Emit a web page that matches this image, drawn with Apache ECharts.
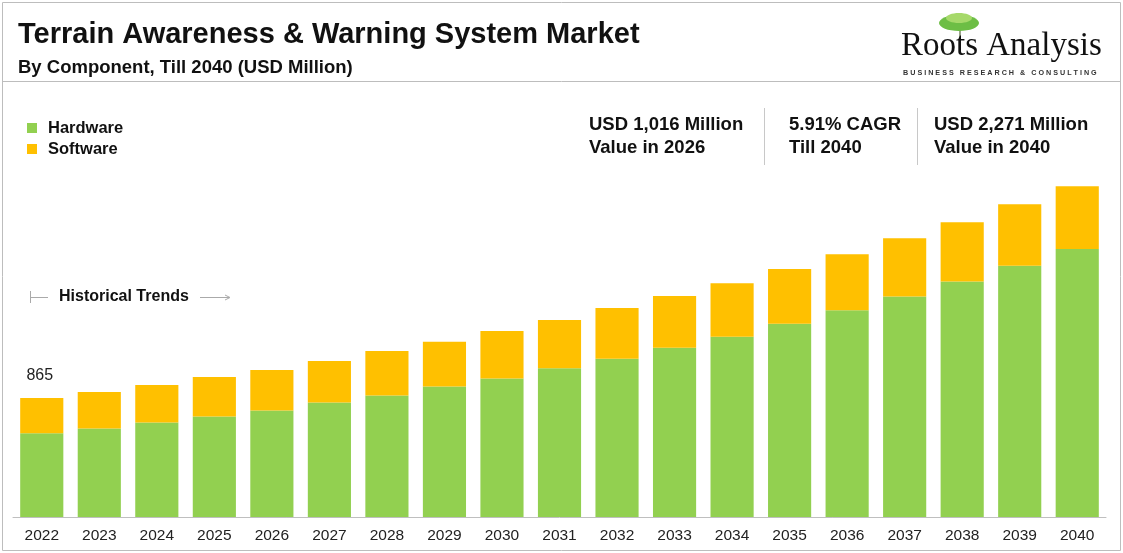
<!DOCTYPE html>
<html>
<head>
<meta charset="utf-8">
<script src="https://cdn.jsdelivr.net/npm/echarts@6/dist/echarts.min.js"></script>
<style>
html,body{margin:0;padding:0;background:#fff;}
#c{width:1123px;height:553px;}
</style>
</head>
<body>
<div id="c"></div>
<script>
var years = ['2022','2023','2024','2025','2026','2027','2028','2029','2030','2031','2032','2033','2034','2035','2036','2037','2038','2039','2040'];
var hardware = [609,642,686,729,773,831,882,947,1005,1080,1150,1230,1309,1404,1501,1602,1711,1824,1947];
var software = [256,266,273,288,295,302,324,326,346,350,368,375,389,397,408,423,430,447,455];
var seriesNames = ['Hardware','Software'];
var colors = ['#92D050','#FFC000'];
var titleText = 'Terrain Awareness & Warning System Market';
var subtitleText = 'By Component, Till 2040 (USD Million)';
var stats = [
  ['USD 1,016 Million','Value in 2026'],
  ['5.91% CAGR','Till 2040'],
  ['USD 2,271 Million','Value in 2040']
];

var chart = echarts.init(document.getElementById('c'), null, {renderer:'canvas'});
var font = 'Liberation Sans, Arial, sans-serif';

var swData = software.map(function(v,i){
  if(i===0){
    return {value:v, label:{show:true, position:'top', distance:14, offset:[-2,0],
      formatter:function(){return String(hardware[0]+software[0]);},
      color:'#222', fontSize:16, fontFamily:font}};
  }
  return v;
});

var option = {
  animation:false,
  grid:{left:13, right:17, top:159, bottom:36},
  legend:{
    data:seriesNames, orient:'vertical', left:27, top:119, padding:0,
    icon:'rect', itemWidth:10, itemHeight:10, itemGap:3,
    textStyle:{fontFamily:font, fontWeight:'bold', fontSize:16.5, color:'#111', lineHeight:18, padding:[0,0,0,6]}
  },
  xAxis:{
    type:'category', data:years,
    axisLine:{lineStyle:{color:'#BFBFBF', width:1}},
    axisTick:{show:false},
    axisLabel:{color:'#222', fontSize:15.5, fontFamily:font, margin:11}
  },
  yAxis:{type:'value', min:0, max:2600, show:false, splitLine:{show:false}},
  series:[
    {name:seriesNames[0], type:'bar', stack:'t', data:hardware, barCategoryGap:'25%',
     itemStyle:{color:colors[0]}},
    {name:seriesNames[1], type:'bar', stack:'t', data:swData, barCategoryGap:'25%',
     itemStyle:{color:colors[1]}}
  ],
  graphic:[
    {type:'rect', shape:{x:2.5,y:2.5,width:1118,height:548}, style:{fill:'none', stroke:'#BDBDBD', lineWidth:1}, silent:true, z:-1},
    {type:'line', shape:{x1:2.5,y1:81.5,x2:1120.5,y2:81.5}, style:{stroke:'#BDBDBD', lineWidth:1}},
    {type:'text', x:18, y:34.5, style:{text:titleText, font:'bold 29px '+font, fill:'#111', textVerticalAlign:'middle'}},
    {type:'text', x:18, y:68, style:{text:subtitleText, font:'bold 18.5px '+font, fill:'#111', textVerticalAlign:'middle'}},
    // stats
    {type:'text', x:589, y:125, style:{text:stats[0][0], font:'bold 18.5px '+font, fill:'#111', textVerticalAlign:'middle'}},
    {type:'text', x:589, y:148, style:{text:stats[0][1], font:'bold 18.5px '+font, fill:'#111', textVerticalAlign:'middle'}},
    {type:'line', shape:{x1:764.5,y1:108,x2:764.5,y2:165}, style:{stroke:'#C8C8C8', lineWidth:1}},
    {type:'text', x:789, y:125, style:{text:stats[1][0], font:'bold 18.5px '+font, fill:'#111', textVerticalAlign:'middle'}},
    {type:'text', x:789, y:148, style:{text:stats[1][1], font:'bold 18.5px '+font, fill:'#111', textVerticalAlign:'middle'}},
    {type:'line', shape:{x1:917.5,y1:108,x2:917.5,y2:165}, style:{stroke:'#C8C8C8', lineWidth:1}},
    {type:'text', x:934, y:125, style:{text:stats[2][0], font:'bold 18.5px '+font, fill:'#111', textVerticalAlign:'middle'}},
    {type:'text', x:934, y:148, style:{text:stats[2][1], font:'bold 18.5px '+font, fill:'#111', textVerticalAlign:'middle'}},
    // historical trends
    {type:'line', shape:{x1:30.5,y1:291,x2:30.5,y2:303}, style:{stroke:'#AAAAAA', lineWidth:1}},
    {type:'line', shape:{x1:30.5,y1:297.5,x2:48,y2:297.5}, style:{stroke:'#AAAAAA', lineWidth:1}},
    {type:'text', x:59, y:297, style:{text:'Historical Trends', font:'bold 16px '+font, fill:'#111', textVerticalAlign:'middle'}},
    {type:'line', shape:{x1:200,y1:297.5,x2:229,y2:297.5}, style:{stroke:'#AAAAAA', lineWidth:1}},
    {type:'polyline', shape:{points:[[225,295],[230,297.5],[225,300]]}, style:{stroke:'#AAAAAA', fill:'none', lineWidth:1}},
    // logo
    {type:'line', shape:{x1:960,y1:28,x2:960,y2:52}, style:{stroke:'#9AA58A', lineWidth:2}},
    {type:'ellipse', shape:{cx:959,cy:23,rx:20,ry:8}, style:{fill:'#6DBE45'}},
    {type:'ellipse', shape:{cx:959,cy:18,rx:13,ry:5}, style:{fill:'#A6D96A'}},
    {type:'text', x:901, y:46, style:{text:'Roots Analysis', font:'33px Liberation Serif, Times New Roman, serif', fill:'#111', textVerticalAlign:'middle'}},
    {type:'text', x:903, y:73, style:{text:'B U S I N E S S   R E S E A R C H   &   C O N S U L T I N G', font:'bold 7.2px '+font, fill:'#333', textVerticalAlign:'middle'}}
  ]
};
chart.setOption(option);
</script>
</body>
</html>
